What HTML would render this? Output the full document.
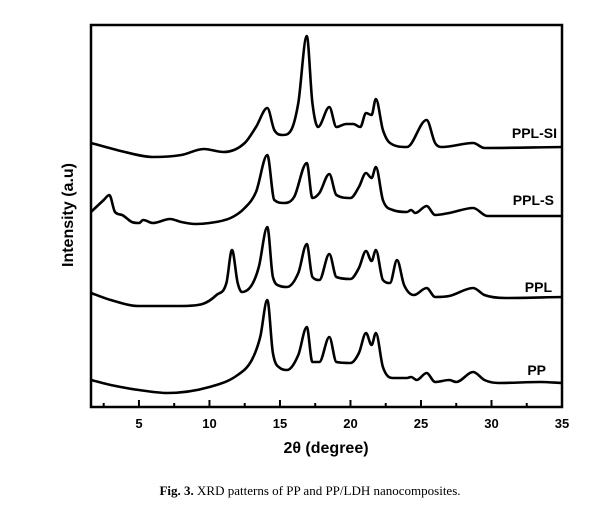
<!DOCTYPE html>
<html><head><meta charset="utf-8"><style>
html,body{margin:0;padding:0;background:#fff;width:605px;height:524px;overflow:hidden}
svg{display:block}
</style></head><body>
<svg id="chart" width="605" height="524" viewBox="0 0 605 524" xmlns="http://www.w3.org/2000/svg" font-family="Liberation Sans, Arial, sans-serif">
<g id="plot"></g>
<g id="axes"></g>
<text x="326" y="453" text-anchor="middle" font-weight="bold" font-size="16">2θ (degree)</text>
<text transform="translate(73,215) rotate(-90)" text-anchor="middle" font-weight="bold" font-size="16">Intensity (a.u)</text>
<text x="310" y="495" text-anchor="middle" font-family="Liberation Serif, serif" font-size="13"><tspan font-weight="bold">Fig. 3.</tspan> XRD patterns of PP and PP/LDH nanocomposites.</text>
</svg>
<script>
const xTicks = [5, 10, 15, 20, 25, 30, 35];
const xMinorTicks = [2.5, 7.5, 12.5, 17.5, 22.5, 27.5, 32.5];
const seriesNames = ["PP", "PPL", "PPL-S", "PPL-SI"];
const ppData = [[1.6,27],[3,22],[5,17],[7,14],[10,20],[12,32],[13,47],[13.6,70],[14.1,107],[14.5,54],[15,39],[15.5,37],[16.3,52],[16.9,80],[17.3,45],[17.8,45],[18.5,70],[19,45],[20,44],[20.6,54],[21.1,74],[21.5,62],[21.8,74],[22.3,40],[23,29],[24,29],[24.3,30],[24.7,27],[25.4,34],[26,25],[27,27],[27.5,25],[28.7,35],[29.5,27],[30.5,24],[33.5,25],[35,24]];
const pplData = [[1.6,114],[3,107],[5,101],[8,101],[9.5,103],[10.5,112],[11.2,124],[11.6,157],[12,124],[12.3,115],[13,122],[13.5,140],[14.1,180],[14.5,130],[15,121],[15.5,120],[16.3,134],[16.9,163],[17.3,130],[17.8,127],[18.5,153],[19,130],[20,128],[20.6,139],[21.1,156],[21.5,146],[21.8,157],[22.3,127],[22.8,124],[23.3,147],[23.8,122],[24.5,112],[25.4,119],[26,110],[27,111],[28.7,119],[29.5,112],[31,109],[35,110]];
const pplsData = [[1.6,195],[2.5,207],[2.9,212],[3.3,195],[3.8,192],[4.5,185],[5,184],[5.3,187],[6,184],[7.2,188],[8,185],[9,183],[10,184],[11.5,189],[12.5,199],[13.3,215],[14.1,252],[14.6,207],[15.3,204],[16,210],[16.9,244],[17.3,209],[17.8,214],[18.5,233],[19,212],[20,209],[20.6,220],[21.1,234],[21.5,229],[21.8,240],[22.3,207],[23,197],[24,195],[24.3,197],[24.6,194],[25.4,201],[26,192],[27,194],[28.7,199],[29.7,191],[35,191]];
const pplsiData = [[1.6,264],[4,255],[6,250],[8,252],[9.6,258],[11,255],[12.5,264],[13.3,280],[14.1,299],[14.6,277],[15.2,272],[15.8,277],[16.3,304],[16.9,371],[17.3,304],[17.7,280],[18.5,300],[19,280],[19.7,283],[20.2,283],[20.7,280],[21.1,294],[21.5,292],[21.8,308],[22.3,277],[22.8,264],[24,260],[25.4,287],[26,264],[26.5,260],[28.7,264],[29.5,259],[35,260]];

const L=91,R=562,T=25,B=407,XMIN=1.6,XMAX=35;
const xs=v=>L+(v-XMIN)/(XMAX-XMIN)*(R-L);
const ys=v=>B-v;
const NS="http://www.w3.org/2000/svg";
const plot=document.getElementById('plot'),axes=document.getElementById('axes');
function mk(tag,attrs,parent){const e=document.createElementNS(NS,tag);for(const k in attrs)e.setAttribute(k,attrs[k]);parent.appendChild(e);return e;}

function monotonePath(P){
  const n=P.length,d=[],m=[];
  for(let i=0;i<n-1;i++)d.push((P[i+1][1]-P[i][1])/(P[i+1][0]-P[i][0]));
  m[0]=d[0];m[n-1]=d[n-2];
  for(let i=1;i<n-1;i++){m[i]=(d[i-1]*d[i]<=0)?0:(d[i-1]+d[i])/2;}
  for(let i=0;i<n-1;i++){if(d[i]===0){m[i]=m[i+1]=0;continue;}const a=m[i]/d[i],b=m[i+1]/d[i],s=a*a+b*b;if(s>9){const t=3/Math.sqrt(s);m[i]=t*a*d[i];m[i+1]=t*b*d[i];}}
  let s='M'+P[0][0].toFixed(1)+','+P[0][1].toFixed(1);
  for(let i=0;i<n-1;i++){const h=(P[i+1][0]-P[i][0])/3;
    s+=' C'+(P[i][0]+h).toFixed(1)+','+(P[i][1]+m[i]*h).toFixed(1)+' '+(P[i+1][0]-h).toFixed(1)+','+(P[i+1][1]-m[i+1]*h).toFixed(1)+' '+P[i+1][0].toFixed(1)+','+P[i+1][1].toFixed(1);}
  return s;
}

const all=[ppData,pplData,pplsData,pplsiData];
const labelPos=[[546,375],[552,292],[554,205],[557,138]];
all.forEach((d,i)=>{
  const P=d.map(p=>[xs(p[0]),ys(p[1])]);
  const pl=mk('path',{d:monotonePath(P),fill:'none',stroke:'#000','stroke-width':2.6,'stroke-linejoin':'round'},plot);
  
  
  const t=mk('text',{x:labelPos[i][0],y:labelPos[i][1],'text-anchor':'end','font-weight':'bold','font-size':14},plot);
  t.textContent=seriesNames[i];
  
  
});

const frame=mk('rect',{x:L,y:T,width:R-L,height:B-T,fill:'none',stroke:'#000','stroke-width':2.5},axes);


xTicks.forEach(v=>{
  const l=mk('line',{x1:xs(v),x2:xs(v),y1:B,y2:B-7,stroke:'#000','stroke-width':2},axes);
  
  
  const t=mk('text',{x:xs(v),y:428,'text-anchor':'middle','font-weight':'bold','font-size':13},axes);
  t.textContent=v;
  
  
});
xMinorTicks.forEach(v=>{
  const l=mk('line',{x1:xs(v),x2:xs(v),y1:B,y2:B-4,stroke:'#000','stroke-width':2},axes);
  
  
});
</script>
</body></html>
